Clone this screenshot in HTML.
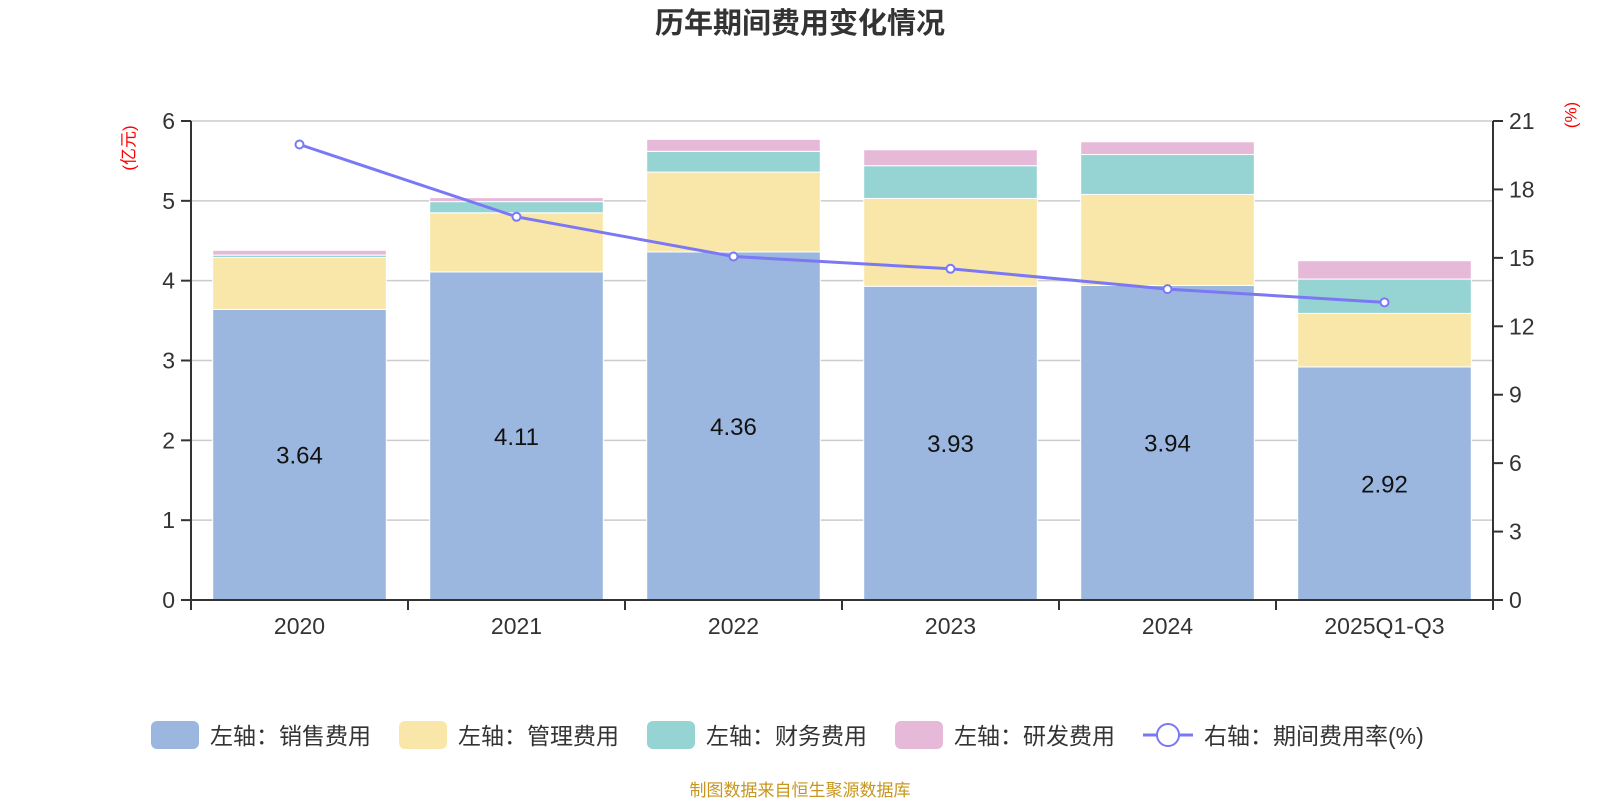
<!DOCTYPE html>
<html><head><meta charset="utf-8"><style>
body{margin:0;background:#fff;}
svg text{font-family:"Liberation Sans","Noto Sans CJK SC",sans-serif;}
</style></head><body>
<svg width="1600" height="800" xmlns="http://www.w3.org/2000/svg" id="chart">
<text x="800" y="33" text-anchor="middle" font-size="29" font-weight="bold" fill="#333">历年期间费用变化情况</text>
<text transform="translate(130,148) rotate(-90)" text-anchor="middle" font-size="17" fill="#f00" dominant-baseline="middle">(亿元)</text>
<text transform="translate(1572,115) rotate(-90)" text-anchor="middle" font-size="17" fill="#f00" dominant-baseline="middle">(%)</text>
<g id="plot"></g>
<g id="legend"></g>
<text x="800" y="796" text-anchor="middle" font-size="17" fill="#c8961e">制图数据来自恒生聚源数据库</text>
</svg>
<script>
const categories=["2020","2021","2022","2023","2024","2025Q1-Q3"];
const sales=[3.64,4.11,4.36,3.93,3.94,2.92];
const mgmt=[0.65,0.74,1.00,1.10,1.14,0.67];
const fin=[0.03,0.14,0.26,0.41,0.50,0.43];
const rd=[0.06,0.05,0.15,0.20,0.16,0.23];
const rate=[19.97,16.8,15.06,14.52,13.63,13.05];
const leftTicks=[0,1,2,3,4,5,6];
const rightTicks=[0,3,6,9,12,15,18,21];

const NS="http://www.w3.org/2000/svg";
const L=191,R=1493,T=121,B=600;
const band=(R-L)/categories.length;
const yL=v=>B-(v/6)*(B-T);
const yR=v=>B-(v/21)*(B-T);
const xC=i=>L+band*(i+0.5);
const g=document.getElementById('plot');
function el(tag,attrs,parent){const e=document.createElementNS(NS,tag);for(const k in attrs)e.setAttribute(k,attrs[k]);(parent||g).appendChild(e);return e;}

leftTicks.forEach((t,i)=>{
  const y=yL(t);
  if(t>0){const gl=el('line',{x1:L,x2:R,y1:y,y2:y,stroke:'#ccc','stroke-width':1.5});
  
  }
  const tk=el('line',{x1:L-10,x2:L,y1:y,y2:y,stroke:'#333','stroke-width':2});
  
  
  const tx=el('text',{x:L-16,y:y+8,'text-anchor':'end','font-size':23,fill:'#333'});
  tx.textContent=t;
  
  
});
rightTicks.forEach(t=>{
  const y=yR(t);
  const tk=el('line',{x1:R,x2:R+10,y1:y,y2:y,stroke:'#333','stroke-width':2});
  
  
  const tx=el('text',{x:R+16,y:y+8,'font-size':23,fill:'#333'});
  tx.textContent=t;
  
  
});

const series=[[sales,'#9bb7e0','sales'],[mgmt,'#f8e7a9','mgmt'],[fin,'#96d3d3','finance'],[rd,'#e6b9d9','rnd']];
const bw=band*0.8;
categories.forEach((c,i)=>{
  let acc=0;
  series.forEach(([arr,col,nm])=>{
    const y0=yL(acc),y1=yL(acc+arr[i]);acc+=arr[i];
    const r=el('rect',{x:xC(i)-bw/2,y:y1,width:bw,height:y0-y1,fill:col,stroke:'#fff','stroke-width':1});
    
    
  });
  const lb=el('text',{x:xC(i),y:yL(sales[i]/2)+9,'text-anchor':'middle','font-size':24,fill:'#111'});
  lb.textContent=sales[i].toFixed(2);
  
  
  const tx=el('text',{x:xC(i),y:B+34,'text-anchor':'middle','font-size':23,fill:'#333'});
  tx.textContent=c;
  
  
});
for(let i=0;i<=categories.length;i++){
  const x=L+band*i;
  const tk=el('line',{x1:x,x2:x,y1:B,y2:B+10,stroke:'#333','stroke-width':2});
  
  
}
const ax=el('line',{x1:L,x2:R,y1:B,y2:B,stroke:'#333','stroke-width':2});


const la=el('line',{x1:L,x2:L,y1:T,y2:B,stroke:'#333','stroke-width':2});


const ra=el('line',{x1:R,x2:R,y1:T,y2:B,stroke:'#333','stroke-width':2});



const pl=el('polyline',{points:rate.map((v,i)=>xC(i)+','+yR(v)).join(' '),fill:'none',stroke:'#7b78f4','stroke-width':3});


rate.forEach((v,i)=>{
  const p=el('circle',{cx:xC(i),cy:yR(v),r:4,fill:'#fff',stroke:'#7b78f4','stroke-width':2});
  
  
});

const lg=document.getElementById('legend');
const items=[['#9bb7e0','左轴：销售费用',151],['#f8e7a9','左轴：管理费用',399],['#96d3d3','左轴：财务费用',647],['#e6b9d9','左轴：研发费用',895]];
items.forEach(([col,txt,x])=>{
  const r=el('rect',{x:x,y:721,width:48,height:28,rx:6,fill:col},lg);
  
  
  const t=el('text',{x:x+59,y:744,'font-size':23,fill:'#333'},lg);
  t.textContent=txt;
  
  
});
const ll=el('line',{x1:1143,x2:1193,y1:735,y2:735,stroke:'#7b78f4','stroke-width':3},lg);


const lc=el('circle',{cx:1168,cy:735,r:11,fill:'#fff',stroke:'#7b78f4','stroke-width':2},lg);


const lt=el('text',{x:1204,y:744,'font-size':23,fill:'#333'},lg);
lt.textContent='右轴：期间费用率(%)';


</script>
</body></html>
